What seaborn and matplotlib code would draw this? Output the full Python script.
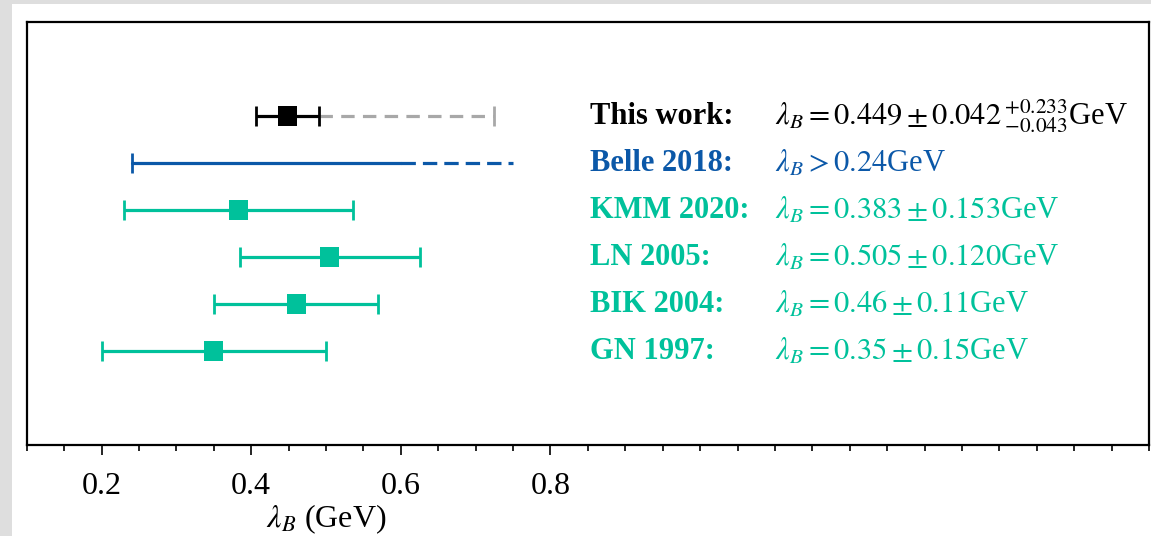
import numpy as np
import pandas as pd
import matplotlib
matplotlib.use("Agg")
import matplotlib.pyplot as plt
from matplotlib.patches import Rectangle
from matplotlib.ticker import FixedLocator, MultipleLocator
import seaborn as sns

# ---------------- data ----------------
labels = ["This work:", "Belle 2018:", "KMM 2020:", "LN 2005:", "BIK 2004:", "GN 1997:"]
rows = [6, 5, 4, 3, 2, 1]
value_texts = [
    r"$\lambda_B = 0.449 \pm 0.042\,{}^{+0.233}_{-0.043}$GeV",
    r"$\lambda_B > 0.24$GeV",
    r"$\lambda_B = 0.383 \pm 0.153$GeV",
    r"$\lambda_B = 0.505 \pm 0.120$GeV",
    r"$\lambda_B = 0.46 \pm 0.11$GeV",
    r"$\lambda_B = 0.35 \pm 0.15$GeV",
]
# measurements with symmetric errors
meas_names = ["This work:", "KMM 2020:", "LN 2005:", "BIK 2004:", "GN 1997:"]
meas_central = [0.449, 0.383, 0.505, 0.46, 0.35]
meas_err = [0.042, 0.153, 0.120, 0.11, 0.15]
meas_rows = [6, 4, 3, 2, 1]
this_work_syst_up = 0.233
belle_limit = 0.24
belle_solid_end = 0.60
belle_dash_end = 0.75
tick_values = [0.2, 0.4, 0.6, 0.8]

# ---------------- style ----------------
BLACK = "#000000"
GRAY = "#a8a8a8"
BLUE = "#0b58a8"
TEAL = "#00c19b"
row_colors = [BLACK, BLUE, TEAL, TEAL, TEAL, TEAL]

sns.set_theme(style="ticks")
plt.rcParams["font.family"] = ["Liberation Serif", "DejaVu Serif"]
plt.rcParams["mathtext.fontset"] = "stix"

fig = plt.figure(figsize=(11.51, 5.36), dpi=100)
fig.patch.set_facecolor("#dedede")
fig.add_artist(Rectangle((12 / 1151, 0), 1 - 12 / 1151, (536 - 4) / 536,
                         transform=fig.transFigure, facecolor="white",
                         edgecolor="none", zorder=-5))
ax = fig.add_axes([26.8 / 1151, (536 - 445) / 536, (1149 - 26.8) / 1151, (445 - 22) / 536])
ax.set_facecolor("white")

df = pd.DataFrame({"name": meas_names, "value": meas_central,
                   "err": meas_err, "row": meas_rows})
meas_colors = {n: (BLACK if n == "This work:" else TEAL) for n in meas_names}

lw = 2.3
# error bars
for _, r in df.iterrows():
    ax.errorbar(r["value"], r["row"], xerr=r["err"], fmt="none",
                ecolor=meas_colors[r["name"]], elinewidth=lw, capsize=7,
                capthick=2.0, zorder=2)

# systematic (upper) for this work
c0, e0, y0 = meas_central[0], meas_err[0], meas_rows[0]
lo, hi = c0 + e0, c0 + e0 + this_work_syst_up
ax.plot([lo, hi], [y0, y0], color=GRAY, lw=lw, dashes=(4.2, 2.6), zorder=1)
ax.plot([hi], [y0], marker="|", ms=15, mew=2.0, color=GRAY, zorder=1)

# Belle lower limit
yb = rows[1]
ax.plot([belle_limit, belle_solid_end], [yb, yb], color=BLUE, lw=lw, zorder=2)
ax.plot([belle_solid_end, belle_dash_end], [yb, yb], color=BLUE, lw=lw,
        dashes=(4.5, 2.2), zorder=2)
ax.plot([belle_limit], [yb], marker="|", ms=15, mew=2.0, color=BLUE, zorder=2)

# central markers via seaborn
sns.scatterplot(data=df, x="value", y="row", hue="name", palette=meas_colors,
                marker="s", s=190, linewidth=0, legend=False, ax=ax, zorder=3)

# text annotations
FS = 22
for lab, yv, col, vt in zip(labels, rows, row_colors, value_texts):
    ax.text(0.853, yv - 0.18, lab, color=col, fontsize=FS, fontweight="bold",
            ha="left", va="baseline")
    ax.text(1.1, yv - 0.18, vt, color=col, fontsize=FS, ha="left", va="baseline")

ax.set_xlim(0.1, 1.6)
ax.set_ylim(-1, 8)
ax.set_yticks([])
ax.set_ylabel("")
ax.xaxis.set_major_locator(FixedLocator(tick_values))
ax.xaxis.set_minor_locator(MultipleLocator(0.05))
ax.set_xticklabels([f"{t:.1f}" for t in tick_values])
ax.tick_params(axis="x", which="major", direction="out", length=7.5, width=1.2,
               labelsize=23, pad=12, color="black", labelcolor="black")
ax.tick_params(axis="x", which="minor", direction="out", length=4.5, width=1.2,
               color="black")
for s in ax.spines.values():
    s.set_visible(True)
    s.set_color("black")
    s.set_linewidth(1.6)
ax.set_xlabel(r"$\lambda_B$ (GeV)", fontsize=23, color="black")
ax.xaxis.set_label_coords(0.2667, -0.136)

fig.savefig("out.png", dpi=100, facecolor=fig.get_facecolor())
